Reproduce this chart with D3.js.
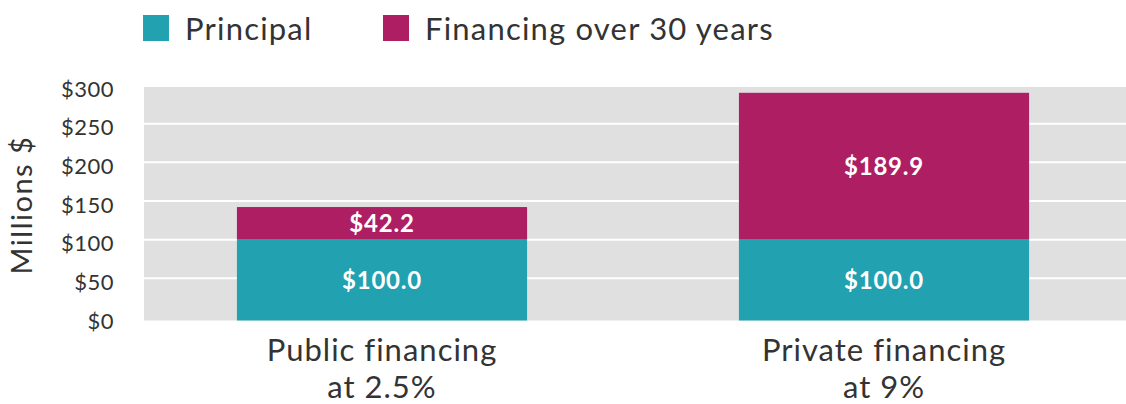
<!DOCTYPE html>
<html>
<head>
<meta charset="utf-8">
<script src="https://cdn.jsdelivr.net/npm/d3@7"></script>
<style>
  html, body { margin: 0; padding: 0; background: #fff; }
  svg { display: block; font-family: Lato, "Open Sans", sans-serif; font-variant-ligatures: none; }
</style>
</head>
<body>
<div id="chart"></div>
<script>
// Stacked bars — public vs private financing cost (millions $)
const categories = [["Public financing", "at 2.5%"], ["Private financing", "at 9%"]];
const seriesNames = ["Principal", "Financing over 30 years"];
const principal = [100.0, 100.0];
const financing = [42.2, 189.9];
const yTicks = [0, 50, 100, 150, 200, 250, 300];
const colors = ["#22a1b1", "#ad1f62"];

(function(){
  const width = 1126, height = 404;
  const svg = d3.select("#chart").append("svg")
    .attr("width", width)
    .attr("height", height);

  // plot area
  const plot = {left: 144, right: 1126, top: 87, bottom: 320.5};

  const x = d3.scaleBand()
    .domain(categories.map((d, i) => i))
    .range([131, 1135])
    .paddingInner(0.422)
    .paddingOuter(0.211);

  const y = d3.scaleLinear()
    .domain([0, 300])
    .range([317, 85]);

  // background
  svg.append("rect")
    .attr("x", plot.left)
    .attr("y", plot.top)
    .attr("width", plot.right - plot.left)
    .attr("height", plot.bottom - plot.top)
    .attr("fill", "#e0e0e0");

  // gridlines
  svg.append("g")
    .selectAll("line")
    .data(yTicks.filter(t => t > 0 && t < 300))
    .join("line")
    .attr("x1", plot.left)
    .attr("x2", plot.right)
    .attr("y1", d => y(d))
    .attr("y2", d => y(d))
    .attr("stroke", "#fff")
    .attr("stroke-width", 2);

  // stacked data
  const rows = categories.map((c, i) => ({i, principal: principal[i], financing: financing[i]}));
  const stack = d3.stack().keys(["principal", "financing"])(rows);

  const layers = svg.append("g")
    .selectAll("g")
    .data(stack)
    .join("g")
    .attr("fill", (d, i) => colors[i]);

  layers.selectAll("rect")
    .data(d => d)
    .join("rect")
    .attr("x", d => x(d.data.i))
    .attr("width", x.bandwidth())
    .attr("y", d => y(d[1]))
    .attr("height", d => (d[0] === 0 ? plot.bottom : y(d[0])) - y(d[1]));

  // value labels
  layers.selectAll("text")
    .data(d => d.map(v => ({v, key: d.key})))
    .join("text")
    .attr("x", d => x(d.v.data.i) + x.bandwidth() / 2)
    .attr("y", d => ((d.v[0] === 0 ? plot.bottom : y(d.v[0])) + y(d.v[1])) / 2)
    .attr("dy", "0.36em")
    .attr("text-anchor", "middle")
    .attr("fill", "#fff")
    .style("font-size", "24px")
    .style("letter-spacing", "0.8px")
    .style("font-weight", "bold")
    .text(d => "$" + d.v.data[d.key].toFixed(1));

  // y axis tick labels
  const yAxis = svg.append("g")
    .attr("transform", "translate(114,0)")
    .call(d3.axisLeft(y).tickValues(yTicks).tickSize(0).tickPadding(0).tickFormat(d => "$" + d));
  yAxis.select(".domain").remove();
  yAxis.selectAll("text")
    .attr("dy", "0.5em")
    .attr("fill", "#333")
    .style("font-size", "22px")
    .style("letter-spacing", "0.5px")
    .style("font-family", "Lato, 'Open Sans', sans-serif");

  // y axis title
  svg.append("text")
    .attr("transform", "translate(32,205) rotate(-90)")
    .attr("text-anchor", "middle")
    .attr("fill", "#333")
    .style("font-size", "29px")
    .style("letter-spacing", "1.5px")
    .text("Millions $");

  // category labels
  const cat = svg.append("g")
    .selectAll("text")
    .data(categories)
    .join("text")
    .attr("x", (d, i) => x(i) + x.bandwidth() / 2)
    .attr("y", 361)
    .attr("text-anchor", "middle")
    .attr("fill", "#333")
    .style("font-size", "31px")
    .style("letter-spacing", "1px");
  cat.selectAll("tspan")
    .data(d => d)
    .join("tspan")
    .attr("x", function() { return this.parentNode.getAttribute("x"); })
    .attr("dy", (d, i) => i === 0 ? 0 : 37)
    .text(d => d);

  // legend
  const legendPos = [143, 383];
  const legend = svg.append("g");
  seriesNames.forEach((name, i) => {
    const row = legend.append("g").attr("transform", `translate(${legendPos[i]},15)`);
    row.append("rect")
      .attr("width", 26)
      .attr("height", 26)
      .attr("fill", colors[i]);
    row.append("text")
      .attr("x", 42)
      .attr("y", 25)
      .attr("fill", "#333")
      .style("font-size", "31px")
      .style("letter-spacing", "1.2px")
      .text(name);
  });
})();
</script>
</body>
</html>
